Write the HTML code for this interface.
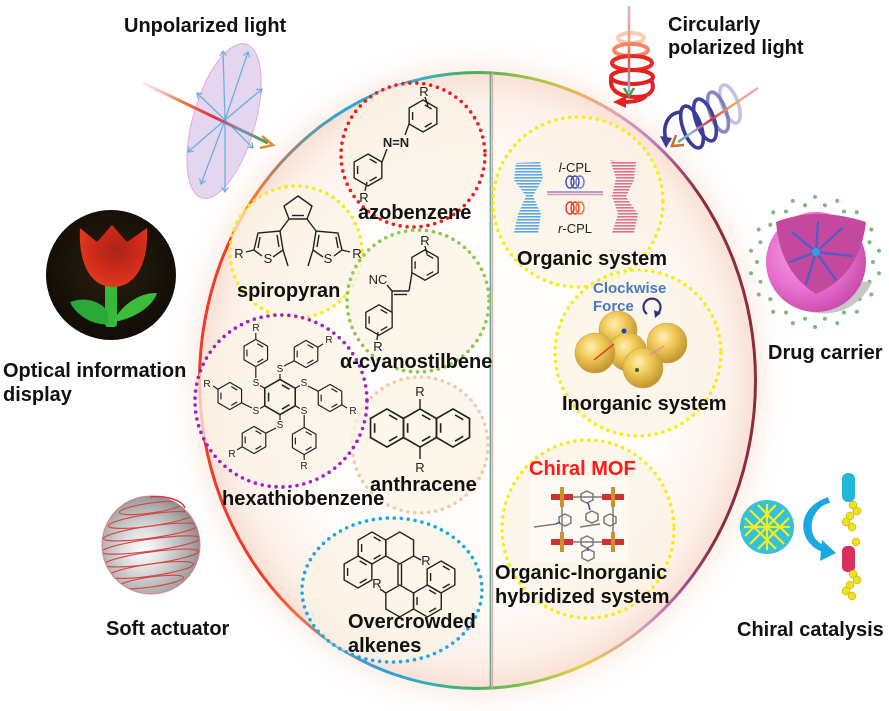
<!DOCTYPE html>
<html><head><meta charset="utf-8"><title>Chiral luminescence overview</title>
<style>
html,body{margin:0;padding:0;background:#fff}
#wrap{position:relative;width:889px;height:711px;overflow:hidden;background:#fff}
#ring{position:absolute;left:198px;top:71px;width:559px;height:619px;border-radius:50%;
background:conic-gradient(from 0deg,#4caf50 0deg,#b0c840 12deg,#f0b060 20deg,#e8a0b0 27deg,#c080c8 36deg,#a04a78 44deg,#8e2c3c 50deg,#8e2c3c 125deg,#9a4a88 134deg,#d098c8 145deg,#e8d048 160deg,#80c048 172deg,#4cb060 180deg,#30b0b8 189deg,#2aa0e0 198deg,#8a8a98 208deg,#f07040 218deg,#f23a2a 226deg,#f23a2a 300deg,#f07838 310deg,#8a8a88 321deg,#28a8d8 334deg,#30b0c0 350deg,#4caf50 360deg);
box-shadow:0 0 24px 8px rgba(248,210,190,.4)}
#inner{position:absolute;left:3px;top:3px;right:3px;bottom:3px;border-radius:50%;
background:radial-gradient(ellipse closest-side,#fffefd 0%,#fffcfa 70%,#fdf1ea 91%,#f9e1d5 100%)}
svg{position:absolute;left:0;top:0}
.t{font-family:"Liberation Sans",Arial,sans-serif;font-weight:bold;font-size:20px;fill:#111}
.m{font-family:"Liberation Sans",Arial,sans-serif;font-size:13px;fill:#222}
.s{font-family:"Liberation Sans",Arial,sans-serif;font-size:10px;fill:#222}
</style></head>
<body><div id="wrap"><div id="ring"><div id="inner"></div></div>
<svg width="889" height="711" viewBox="0 0 889 711" xmlns="http://www.w3.org/2000/svg">
<defs>
<g id="hx"><polygon points="0,-16 13.86,-8 13.86,8 0,16 -13.86,8 -13.86,-8" fill="none" stroke="#222" stroke-width="1.4"/><polygon points="0,-12 10.39,-6 10.39,6 0,12 -10.39,6 -10.39,-6" fill="none" stroke="#222" stroke-width="1.4" stroke-dasharray="8 16" stroke-dashoffset="22"/></g>
<g id="hc"><polygon points="0,-16 13.86,-8 13.86,8 0,16 -13.86,8 -13.86,-8" fill="none" stroke="#222" stroke-width="1.4"/></g>
<marker id="ab" markerWidth="7" markerHeight="7" refX="5" refY="3.5" orient="auto" markerUnits="userSpaceOnUse"><path d="M0,0 L5,3.5 L0,7" fill="none" stroke="#6aaee0" stroke-width="1.2"/></marker>
<linearGradient id="beam" x1="143" y1="83" x2="272" y2="145" gradientUnits="userSpaceOnUse"><stop offset="0" stop-color="#f0a0e0" stop-opacity="0.2"/><stop offset=".3" stop-color="#f07838"/><stop offset=".55" stop-color="#e03050"/><stop offset=".75" stop-color="#8090a8"/><stop offset="1" stop-color="#40a040"/></linearGradient>
<linearGradient id="vbeam" x1="0" y1="5" x2="0" y2="95" gradientUnits="userSpaceOnUse"><stop offset="0" stop-color="#e0a8e8"/><stop offset=".4" stop-color="#f0a060"/><stop offset=".6" stop-color="#f05050"/><stop offset="1" stop-color="#80b8e8"/></linearGradient>
<linearGradient id="bbeam" x1="760" y1="86" x2="672" y2="146" gradientUnits="userSpaceOnUse"><stop offset="0" stop-color="#e0a8e8"/><stop offset=".35" stop-color="#f0a060"/><stop offset=".55" stop-color="#e83030"/><stop offset=".8" stop-color="#80b8e8"/><stop offset="1" stop-color="#60a040"/></linearGradient>
<radialGradient id="tbg" cx=".5" cy=".45" r=".55"><stop offset="0" stop-color="#2a2010"/><stop offset="1" stop-color="#120c06"/></radialGradient>
<radialGradient id="tred" cx=".55" cy=".4" r=".6"><stop offset="0" stop-color="#a82418"/><stop offset=".6" stop-color="#d02a1a"/><stop offset="1" stop-color="#e03a20"/></radialGradient>
<radialGradient id="gsph" cx=".42" cy=".55" r=".6"><stop offset="0" stop-color="#ffffff"/><stop offset=".35" stop-color="#dedede"/><stop offset=".8" stop-color="#a8a8a8"/><stop offset="1" stop-color="#8a8a8a"/></radialGradient>
<radialGradient id="gold" cx=".4" cy=".35" r=".65"><stop offset="0" stop-color="#fff0b0"/><stop offset=".45" stop-color="#f0c850"/><stop offset="1" stop-color="#c09028"/></radialGradient>
<radialGradient id="pink" cx=".4" cy=".4" r=".65"><stop offset="0" stop-color="#f8a8e8"/><stop offset=".6" stop-color="#e870d0"/><stop offset="1" stop-color="#c848a8"/></radialGradient>
<pattern id="bs" width="6" height="3" patternUnits="userSpaceOnUse"><rect width="6" height="1.6" fill="#5aa6e6"/></pattern>
<pattern id="ps" width="6" height="3" patternUnits="userSpaceOnUse"><rect width="6" height="1.6" fill="#e2708a"/></pattern>
<clipPath id="sc"><circle cx="151" cy="545" r="49"/></clipPath>
</defs>

<!-- divider -->
<line x1="490.5" y1="73" x2="490.5" y2="689" stroke="#5fae98" stroke-width="1.8"/>
<line x1="492.5" y1="73" x2="492.5" y2="689" stroke="#e8a8a8" stroke-width="1"/>

<!-- dotted circles -->
<g fill="#fbf3e6" fill-opacity="0.75" stroke-width="3.6" stroke-linecap="round" stroke-dasharray="0 7">
<circle cx="296" cy="252" r="66" stroke="#f8ec10"/>
<circle cx="413" cy="155" r="72" stroke="#ee1c1c"/>
<circle cx="418" cy="301" r="71" stroke="#8cc84a"/>
<circle cx="420" cy="445" r="68" stroke="#f6c8aa"/>
<circle cx="281" cy="401" r="86" stroke="#a020c0"/>
<ellipse cx="392" cy="590" rx="90" ry="72" stroke="#18a8e8"/>
<circle cx="578" cy="202" r="85" stroke="#f8ec10"/>
<circle cx="638" cy="353" r="83" stroke="#f8ec10"/>
<ellipse cx="588" cy="529" rx="86" ry="89" stroke="#f8ec10"/>
</g>

<!-- Unpolarized light -->
<ellipse cx="224" cy="121" rx="31" ry="80" transform="rotate(16 224 121)" fill="#e2d2ee" fill-opacity="0.9" stroke="#e8a8e0" stroke-width="1"/>
<g stroke="#6aaee0" stroke-width="1.3" marker-end="url(#ab)">
<line x1="225" y1="120" x2="223" y2="51"/>
<line x1="225" y1="120" x2="248" y2="52"/>
<line x1="225" y1="120" x2="262" y2="89"/>
<line x1="225" y1="120" x2="197" y2="93"/>
<line x1="225" y1="120" x2="188" y2="152"/>
<line x1="225" y1="120" x2="253" y2="148"/>
<line x1="225" y1="120" x2="225" y2="192"/>
<line x1="225" y1="120" x2="201" y2="184"/>
</g>
<line x1="143" y1="83" x2="268" y2="143" stroke="url(#beam)" stroke-width="3"/>
<path d="M262,136 L273,145 L260,148" fill="none" stroke="#e09030" stroke-width="2.5"/>

<!-- Circularly polarized light: red -->
<g fill="none" stroke-width="4" stroke-linecap="round">
<ellipse cx="631" cy="38" rx="13" ry="5" stroke="#f4a880" opacity="0.6"/>
<ellipse cx="631" cy="50" rx="17" ry="6" stroke="#f07050" opacity="0.85"/>
<ellipse cx="632" cy="63" rx="20" ry="7" stroke="#e82a20"/>
<ellipse cx="632" cy="77" rx="21" ry="7" stroke="#e42020"/>
<path d="M611,80 C610,92 622,97 636,97 C650,97 655,90 652,82" stroke="#e42020"/>
<path d="M645,97 C640,101 632,102 624,102" stroke="#e42020"/>
</g>
<polygon points="626,96 626,108 613,102" fill="#e42020"/>
<line x1="629" y1="6" x2="629" y2="92" stroke="url(#vbeam)" stroke-width="2.5"/>
<path d="M624,88 L629,96 L634,88" fill="none" stroke="#4a9a40" stroke-width="2.5"/>
<!-- blue -->
<g fill="none" stroke-width="3.6">
<ellipse cx="730" cy="104" rx="20" ry="8" transform="rotate(70 730 104)" stroke="#9a9ad0" opacity="0.6"/>
<ellipse cx="718" cy="112" rx="21" ry="8" transform="rotate(70 718 112)" stroke="#6a6ab8" opacity="0.8"/>
<ellipse cx="705" cy="120" rx="22" ry="9" transform="rotate(70 705 120)" stroke="#4040a0"/>
<ellipse cx="692" cy="127" rx="22" ry="9" transform="rotate(70 692 127)" stroke="#3a3a98"/>
<path d="M682,112 C668,112 662,126 666,140" stroke="#3a3a98"/>
</g>
<polygon points="660,136 672,138 666,148" fill="#3a3a98"/>
<line x1="758" y1="88" x2="678" y2="142" stroke="url(#bbeam)" stroke-width="2.5"/>
<path d="M676,135 L672,146 L684,145" fill="none" stroke="#c07030" stroke-width="2.5"/>

<!-- Tulip -->
<circle cx="111" cy="275" r="65" fill="url(#tbg)"/>
<rect x="105" y="283" width="12" height="44" rx="3" fill="#38b83a"/>
<path d="M108,324 C95,326 76,316 70,302 C86,296 102,302 108,312Z" fill="#2aa838"/>
<path d="M114,320 C122,305 140,292 157,293 C152,308 132,319 114,322Z" fill="#3cbc3c"/>
<path d="M80,228 L97,242 L112,225 L127,242 L147,228 C149,262 136,287 113,287 C90,287 78,262 80,228Z" fill="url(#tred)"/>

<!-- Soft actuator -->
<circle cx="151" cy="545" r="49" fill="url(#gsph)"/>
<g clip-path="url(#sc)" fill="none" stroke="#d04848" stroke-width="1.2">
<ellipse cx="151" cy="508" rx="32" ry="5" transform="rotate(-8 151 508)"/>
<ellipse cx="151" cy="520" rx="43" ry="6" transform="rotate(-8 151 520)"/>
<ellipse cx="151" cy="532" rx="48" ry="6" transform="rotate(-8 151 532)"/>
<ellipse cx="151" cy="545" rx="50" ry="6" transform="rotate(-8 151 545)"/>
<ellipse cx="151" cy="558" rx="48" ry="6" transform="rotate(-8 151 558)"/>
<ellipse cx="151" cy="570" rx="43" ry="6" transform="rotate(-8 151 570)"/>
<ellipse cx="151" cy="582" rx="33" ry="5" transform="rotate(-8 151 582)"/>
</g>
<circle cx="151" cy="545" r="49" fill="none" stroke="#d88080" stroke-width="1"/>
<path d="M150,497 C165,495 182,500 185,508" fill="none" stroke="#c84040" stroke-width="1.5"/>

<!-- Drug carrier -->
<g fill="#6aaa70" opacity="0.85">
<circle cx="873" cy="262" r="2"/><circle cx="869.5" cy="281.7" r="2"/><circle cx="859.7" cy="299.1" r="2"/><circle cx="844" cy="312.5" r="2"/><circle cx="824.9" cy="318.8" r="2"/><circle cx="805.1" cy="318.8" r="2"/><circle cx="786" cy="312.5" r="2"/><circle cx="770.3" cy="299.1" r="2"/><circle cx="760.5" cy="281.7" r="2"/><circle cx="757" cy="262" r="2"/><circle cx="760.5" cy="242.3" r="2"/><circle cx="770.3" cy="224.9" r="2"/><circle cx="786" cy="211.5" r="2"/><circle cx="805.1" cy="205.2" r="2"/><circle cx="824.9" cy="205.2" r="2"/><circle cx="844" cy="211.5" r="2"/><circle cx="859.7" cy="224.9" r="2"/><circle cx="869.5" cy="242.3" r="2"/>
<circle cx="879" cy="273.3" r="2"/><circle cx="871.3" cy="294.5" r="2"/><circle cx="856.8" cy="311.8" r="2"/><circle cx="837.2" cy="323.1" r="2"/><circle cx="815" cy="327" r="2"/><circle cx="792.8" cy="323.1" r="2"/><circle cx="773.2" cy="311.8" r="2"/><circle cx="758.7" cy="294.5" r="2"/><circle cx="751" cy="273.3" r="2"/><circle cx="751" cy="250.7" r="2"/><circle cx="758.7" cy="229.5" r="2"/><circle cx="773.2" cy="212.2" r="2"/><circle cx="792.8" cy="200.9" r="2"/><circle cx="815" cy="197" r="2"/><circle cx="837.2" cy="200.9" r="2"/><circle cx="856.8" cy="212.2" r="2"/><circle cx="871.3" cy="229.5" r="2"/><circle cx="879" cy="250.7" r="2"/>
</g>
<path d="M770,280 C785,318 850,330 872,282 Z" fill="#bdbdbd" opacity="0.85"/>
<circle cx="816" cy="262" r="50" fill="url(#pink)"/>
<path d="M776,222 Q816,206 866,222 Q860,275 816,294 Q780,272 776,222 Z" fill="#c4489e"/>
<g stroke="#4a60c8" stroke-width="2.2" fill="none" stroke-linecap="round">
<path d="M816,252 L792,232"/><path d="M816,252 L842,228"/><path d="M816,252 L852,256"/><path d="M816,252 L790,262"/><path d="M816,252 L806,284"/><path d="M816,252 L836,280"/><path d="M816,252 L818,222"/>
</g>
<circle cx="816" cy="252" r="4" fill="#30a0e0"/>

<!-- Chiral catalysis -->
<circle cx="767" cy="527" r="27" fill="#38c0d8"/>
<g stroke="#f0f020" stroke-width="2.2">
<line x1="750" y1="510" x2="784" y2="544"/><line x1="745" y1="518" x2="776" y2="549"/><line x1="758" y1="505" x2="789" y2="536"/>
<line x1="784" y1="510" x2="750" y2="544"/><line x1="789" y1="518" x2="758" y2="549"/><line x1="776" y1="505" x2="745" y2="536"/>
<line x1="744" y1="527" x2="790" y2="527"/><line x1="767" y1="504" x2="767" y2="550"/>
</g>
<path d="M828,497 C808,504 798,520 806,538 C812,548 820,552 826,552 L826,546 C814,542 808,530 814,516 C818,508 824,504 830,503 Z" fill="#1aa8e0"/>
<polygon points="822,540 836,553 820,561" fill="#1aa8e0"/>
<rect x="842" y="473" width="13" height="29" rx="6" fill="#22b8d8"/>
<rect x="842" y="546" width="13" height="26" rx="5" fill="#d8305a"/>
<g fill="#f0e020" stroke="#b0a000" stroke-width=".5">
<circle cx="853" cy="505" r="4"/><circle cx="857" cy="511" r="4"/><circle cx="850" cy="516" r="4"/><circle cx="846" cy="522" r="4"/><circle cx="852" cy="527" r="4"/>
<circle cx="856" cy="542" r="4"/><circle cx="853" cy="574" r="4"/><circle cx="857" cy="580" r="4"/><circle cx="850" cy="585" r="4"/><circle cx="846" cy="591" r="4"/><circle cx="852" cy="596" r="4"/>
</g>

<!-- Azobenzene -->
<use href="#hx" transform="translate(423,116)"/>
<use href="#hx" transform="translate(368,170)"/>
<g stroke="#222" stroke-width="1.4" fill="none">
<line x1="409" y1="124" x2="405" y2="135"/>
<line x1="387" y1="149" x2="382" y2="162"/>
<line x1="425" y1="97" x2="428" y2="106"/>
<line x1="367" y1="182" x2="365" y2="191"/>
</g>
<text class="m" x="396" y="147" text-anchor="middle" font-weight="bold">N=N</text>
<text class="m" x="424" y="96" text-anchor="middle">R</text>
<text class="m" x="364" y="202" text-anchor="middle">R</text>

<!-- Spiropyran (DTE) -->
<g stroke="#222" stroke-width="1.4" fill="none">
<polygon points="298,196 312,206 307,219 289,219 284,206"/>
<line x1="292" y1="215.5" x2="304" y2="215.5"/>
<line x1="289" y1="219" x2="280" y2="231"/>
<line x1="307" y1="219" x2="316" y2="231"/>
<polyline points="283,250 280,231 258,233 254,250 262,256"/>
<line x1="273" y1="257" x2="283" y2="250"/>
<line x1="277" y1="235" x2="279" y2="247"/>
<line x1="260" y1="237" x2="258" y2="248"/>
<line x1="283" y1="250" x2="288" y2="266"/>
<line x1="254" y1="250" x2="246" y2="252"/>
<polyline points="313,250 316,231 338,233 342,250 334,256"/>
<line x1="323" y1="257" x2="313" y2="250"/>
<line x1="319" y1="235" x2="317" y2="247"/>
<line x1="336" y1="237" x2="338" y2="248"/>
<line x1="313" y1="250" x2="308" y2="266"/>
<line x1="342" y1="250" x2="350" y2="252"/>
</g>
<text class="m" x="268" y="263" text-anchor="middle">S</text>
<text class="m" x="328" y="263" text-anchor="middle">S</text>
<text class="m" x="239" y="258" text-anchor="middle">R</text>
<text class="m" x="357" y="258" text-anchor="middle">R</text>

<!-- alpha-cyanostilbene -->
<use href="#hx" transform="translate(425,265) scale(0.95)"/>
<use href="#hx" transform="translate(379,320) scale(0.95)"/>
<g stroke="#222" stroke-width="1.4" fill="none">
<line x1="412" y1="272.6" x2="409" y2="291"/>
<line x1="409" y1="291" x2="392" y2="291"/>
<line x1="407" y1="294.5" x2="394" y2="294.5"/>
<line x1="392" y1="291" x2="387" y2="285"/>
<line x1="392" y1="291" x2="392" y2="312"/>
<line x1="425" y1="246" x2="427" y2="254"/>
<line x1="378" y1="332" x2="377" y2="340"/>
</g>
<text class="m" x="378" y="284" text-anchor="middle" font-size="12">NC</text>
<text class="m" x="425" y="245" text-anchor="middle">R</text>
<text class="m" x="378" y="351" text-anchor="middle">R</text>

<!-- hexathiobenzene -->
<use href="#hx" transform="translate(280,397) scale(1.1)"/>
<use href="#hx" transform="translate(306,354) scale(0.85)"/>
<use href="#hx" transform="translate(255.8,353) scale(0.85)"/>
<use href="#hx" transform="translate(330,398) scale(0.85)"/>
<use href="#hx" transform="translate(304.2,441) scale(0.85)"/>
<use href="#hx" transform="translate(254,440) scale(0.85)"/>
<use href="#hx" transform="translate(229.8,396) scale(0.85)"/>
<g stroke="#222" stroke-width="1.2" fill="none">
<line x1="280" y1="379.4" x2="280" y2="374"/>
<line x1="295.2" y1="388.2" x2="300" y2="385.5"/>
<line x1="295.2" y1="405.8" x2="300" y2="408.5"/>
<line x1="280" y1="414.6" x2="280" y2="420"/>
<line x1="264.8" y1="405.8" x2="260" y2="408.5"/>
<line x1="264.8" y1="388.2" x2="260" y2="385.5"/>
<line x1="284" y1="366" x2="294.2" y2="360.8"/>
<line x1="317.8" y1="347.2" x2="323" y2="344"/>
<line x1="255.8" y1="378" x2="255.8" y2="366.4"/>
<line x1="255.8" y1="339.6" x2="255.8" y2="333"/>
<line x1="308" y1="386" x2="318.2" y2="391.2"/>
<line x1="341.8" y1="404.8" x2="347" y2="408"/>
<line x1="304.2" y1="415" x2="304.2" y2="427.6"/>
<line x1="304.2" y1="454.4" x2="304.2" y2="460"/>
<line x1="276" y1="428" x2="265.8" y2="433.2"/>
<line x1="242.2" y1="446.8" x2="237" y2="450"/>
<line x1="252" y1="408" x2="241.6" y2="402.8"/>
<line x1="218" y1="389.2" x2="213" y2="386"/>
</g>
<g text-anchor="middle">
<text class="s" x="280" y="372">S</text><text class="s" x="304" y="386">S</text><text class="s" x="304" y="414">S</text><text class="s" x="280" y="428">S</text><text class="s" x="256" y="414">S</text><text class="s" x="256" y="386">S</text>
<text class="s" x="329" y="343">R</text><text class="s" x="256" y="331">R</text><text class="s" x="353" y="414">R</text><text class="s" x="304" y="469">R</text><text class="s" x="232" y="457">R</text><text class="s" x="207" y="387">R</text>
</g>

<!-- anthracene -->
<use href="#hx" transform="translate(387,428) scale(1.19)"/>
<use href="#hx" transform="translate(420,428) scale(1.19)"/>
<use href="#hx" transform="translate(453,428) scale(1.19)"/>
<g stroke="#222" stroke-width="1.4"><line x1="420" y1="409" x2="420" y2="399"/><line x1="420" y1="447" x2="420" y2="459"/></g>
<text class="m" x="420" y="396" text-anchor="middle">R</text>
<text class="m" x="420" y="472" text-anchor="middle">R</text>

<!-- overcrowded alkene -->
<use href="#hx" transform="translate(372,548)"/>
<use href="#hx" transform="translate(358,572)"/>
<use href="#hc" transform="translate(399.7,548)"/>
<use href="#hc" transform="translate(399.7,601)"/>
<use href="#hx" transform="translate(427.4,601)"/>
<use href="#hx" transform="translate(441,577)"/>
<g stroke="#222" stroke-width="1.4">
<line x1="398" y1="564" x2="398" y2="585"/><line x1="401.5" y1="564" x2="401.5" y2="585"/>
<line x1="413.6" y1="556" x2="421" y2="560"/>
<line x1="385.8" y1="593" x2="380" y2="589"/>
</g>
<text class="m" x="426" y="565" text-anchor="middle" font-size="12">R</text>
<text class="m" x="377" y="588" text-anchor="middle" font-size="12">R</text>

<!-- Organic system -->
<polygon points="516,163 540,162 543,178 533,196 541,214 538,233 514,233 518,214 526,196 514,180" fill="url(#bs)"/>
<polygon points="610,160 636,162 634,180 626,197 638,214 634,233 612,233 618,214 612,196 616,178" fill="url(#ps)"/>
<line x1="547" y1="192" x2="603" y2="192" stroke="#8a8ad0" stroke-width="1.5"/>
<line x1="547" y1="194.5" x2="603" y2="194.5" stroke="#f090a0" stroke-width="1.5"/>
<g fill="none" stroke-width="1.5">
<ellipse cx="570" cy="182" rx="4" ry="6" stroke="#4050b0"/><ellipse cx="575" cy="182" rx="4" ry="6" stroke="#4050b0"/><ellipse cx="580" cy="182" rx="4" ry="6" stroke="#7080c8"/>
<ellipse cx="570" cy="208" rx="4" ry="6" stroke="#e83020"/><ellipse cx="575" cy="208" rx="4" ry="6" stroke="#e84020"/><ellipse cx="580" cy="208" rx="4" ry="6" stroke="#f07030"/>
</g>
<text class="m" x="575" y="172" text-anchor="middle" fill="#444"><tspan font-style="italic">l</tspan>-CPL</text>
<text class="m" x="575" y="233" text-anchor="middle" fill="#444"><tspan font-style="italic">r</tspan>-CPL</text>

<!-- Inorganic system -->
<g fill="url(#gold)" stroke="#c8a040" stroke-width=".6" opacity="0.95">
<circle cx="618" cy="330" r="19"/><circle cx="667" cy="343" r="20"/><circle cx="628" cy="352" r="19"/><circle cx="595" cy="353" r="20"/><circle cx="643" cy="368" r="20"/>
</g>
<line x1="594" y1="360" x2="614" y2="344" stroke="#e84020" stroke-width="1.5"/>
<circle cx="624" cy="331" r="2.5" fill="#2040c0"/>
<line x1="650" y1="355" x2="664" y2="346" stroke="#f080b0" stroke-width="1.2"/>
<circle cx="637" cy="370" r="2" fill="#406020"/>
<path d="M647,314 A8.5,8.5 0 1 1 657,314" fill="none" stroke="#30307a" stroke-width="2.2"/>
<polygon points="654,310 661,313 655,318" fill="#30307a"/>
<text x="593" y="293" font-family="Liberation Sans, Arial, sans-serif" font-weight="bold" font-size="15" fill="#4a78c0">Clockwise</text>
<text x="593" y="311" font-family="Liberation Sans, Arial, sans-serif" font-weight="bold" font-size="15" fill="#4a78c0">Force</text>

<!-- Chiral MOF -->
<rect x="530" y="477" width="98" height="85" fill="#fffdf9" opacity="0.6"/>
<g stroke="#7a7a7a" stroke-width="1.5" fill="none">
<line x1="572" y1="497" x2="603" y2="497"/><line x1="572" y1="542" x2="603" y2="542"/>
<line x1="562" y1="504" x2="562" y2="535"/><line x1="613" y1="504" x2="613" y2="535"/>
<polygon points="587,491 593,494 593,500 587,503 581,500 581,494"/>
<polygon points="587,536 593,539 593,545 587,548 581,545 581,539"/>
<polygon points="565,514 571,517 571,523 565,526 559,523 559,517"/>
<polygon points="610,514 616,517 616,523 610,526 604,523 604,517"/>
<polygon points="592,511 598,514 598,520 592,523 586,520 586,514"/>
<polygon points="588,549 594,552 594,558 588,561 582,558 582,552"/>
<line x1="534" y1="527" x2="556" y2="524"/><line x1="580" y1="527" x2="600" y2="524"/>
</g>
<g stroke="#3050c0" stroke-width="1.5"><line x1="588" y1="503" x2="590" y2="510"/><line x1="556" y1="524" x2="560" y2="522"/><line x1="588" y1="548" x2="588" y2="551"/></g>
<g>
<rect x="551" y="494" width="22" height="6" fill="#d03030"/><rect x="560" y="487" width="4" height="20" fill="#d09030"/>
<rect x="602" y="494" width="22" height="6" fill="#d03030"/><rect x="611" y="487" width="4" height="20" fill="#d09030"/>
<rect x="551" y="539" width="22" height="6" fill="#d03030"/><rect x="560" y="532" width="4" height="20" fill="#d09030"/>
<rect x="602" y="539" width="22" height="6" fill="#d03030"/><rect x="611" y="532" width="4" height="20" fill="#d09030"/>
</g>

<!-- Labels -->
<text class="t" x="124" y="32">Unpolarized light</text>
<text class="t" x="668" y="31">Circularly</text>
<text class="t" x="668" y="54">polarized light</text>
<text class="t" x="3" y="377">Optical information</text>
<text class="t" x="3" y="401">display</text>
<text class="t" x="106" y="635">Soft actuator</text>
<text class="t" x="768" y="359">Drug carrier</text>
<text class="t" x="737" y="636">Chiral catalysis</text>
<text class="t" x="358" y="219">azobenzene</text>
<text class="t" x="237" y="297">spiropyran</text>
<text class="t" x="340" y="368">α-cyanostilbene</text>
<text class="t" x="222" y="505">hexathiobenzene</text>
<text class="t" x="370" y="491">anthracene</text>
<text class="t" x="348" y="628">Overcrowded</text>
<text class="t" x="348" y="652">alkenes</text>
<text class="t" x="517" y="265">Organic system</text>
<text class="t" x="562" y="410">Inorganic system</text>
<text class="t" x="529" y="475" style="fill:#ff1a1a">Chiral MOF</text>
<text class="t" x="495" y="579">Organic-Inorganic</text>
<text class="t" x="495" y="603">hybridized system</text>
</svg></div></body></html>
